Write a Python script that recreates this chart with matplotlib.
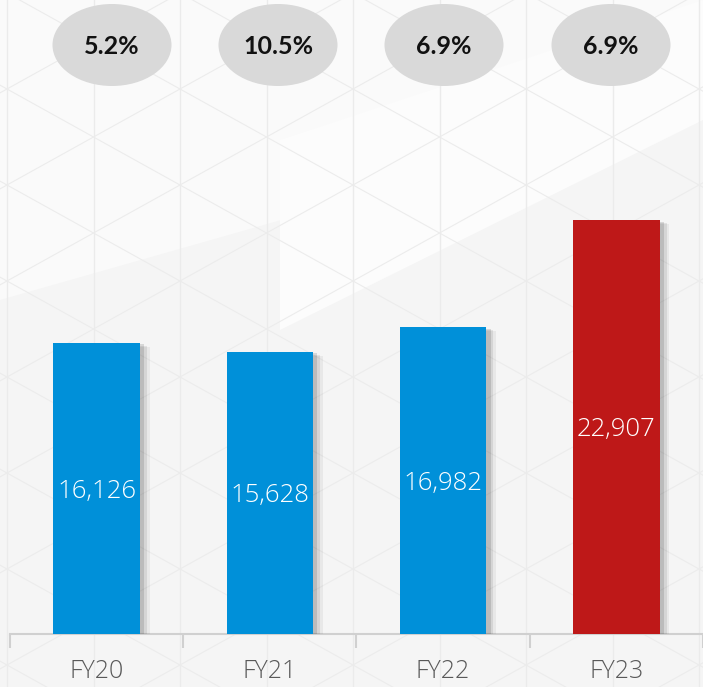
import matplotlib
matplotlib.use("Agg")
import matplotlib.pyplot as plt
import numpy as np
from matplotlib.patches import Ellipse
import matplotlib.patheffects as pe

# ---- data ----
categories = ["FY20", "FY21", "FY22", "FY23"]
values = [16126, 15628, 16982, 22907]
growth = ["5.2%", "10.5%", "6.9%", "6.9%"]
bar_colors = ["#0090D9", "#0090D9", "#0090D9", "#BE1818"]

W, H = 703, 687
fig = plt.figure(figsize=(W / 100, H / 100), dpi=100)
fig.patch.set_facecolor("#f5f5f5")

# ---- decorative background (pixel coords) ----
bg = fig.add_axes([0, 0, 1, 1], zorder=0)
bg.set_xlim(0, W)
bg.set_ylim(H, 0)
bg.axis("off")
bg.set_facecolor("none")
bg.fill([0, 703, 703, 0], [0, 0, 100, 300], color="#fafafa", lw=0, zorder=0)
bg.fill([280, 703, 703, 280], [140, 0, 120, 330], color="#fcfcfc", lw=0, zorder=0)
dx, dy = 86.5, 48.0
s = dy / dx
x0, y0 = 7, 185
for k in range(-2, 10):
    xv = x0 + k * dx
    bg.plot([xv, xv], [0, H], color="#ebebeb", lw=1.0, zorder=1)
xs = np.array([0, W])
for k in range(-20, 20):
    bg.plot(xs, y0 + s * (xs - x0) + 2 * dy * k, color="#ececec", lw=0.8, zorder=1)
    bg.plot(xs, y0 - s * (xs - x0) + 2 * dy * k, color="#ececec", lw=0.8, zorder=1)

# ---- main chart ----
ax = fig.add_axes([0, 53 / H, 1, 634 / H], zorder=2)
ax.set_facecolor("none")
x = np.arange(len(categories))
shadow = [pe.SimplePatchShadow(offset=(7, -3), shadow_rgbFace="#000000", alpha=0.05),
          pe.SimplePatchShadow(offset=(5, -2), shadow_rgbFace="#000000", alpha=0.08),
          pe.SimplePatchShadow(offset=(3, -1), shadow_rgbFace="#000000", alpha=0.12),
          pe.Normal()]
bars = ax.bar(x, values, width=0.5, color=bar_colors, zorder=3)
for b in bars:
    b.set_path_effects(shadow)
for xi, v in zip(x, values):
    ax.text(xi, v / 2 - 150, f"{v:,}", ha="center", va="center", color="white",
            fontsize=18.5, family="Open Sans", fontweight="light", zorder=4)

px = 174.5
ax.set_xlim(-0.5 - 10 / px, -0.5 - 10 / px + W / px)
ax.set_ylim(0, 634 / 0.01806)
for sp in ["top", "right", "left"]:
    ax.spines[sp].set_visible(False)
ax.spines["bottom"].set_color("#d0d0d0")
ax.spines["bottom"].set_linewidth(1.5)
ax.spines["bottom"].set_bounds(-0.5, 4)
ax.set_yticks([])
ax.set_xticks(np.arange(-0.5, 4, 1))
ax.set_xticklabels([])
ax.tick_params(axis="x", length=10, width=1.5, color="#d0d0d0")
ax.set_xticks(x, minor=True)
ax.set_xticklabels(categories, minor=True, fontsize=18, family="Open Sans",
                   fontweight="light", color="#595959")
ax.tick_params(axis="x", which="minor", length=0, pad=18)

# ---- growth ellipses (pixel coords) ----
ov = fig.add_axes([0, 0, 1, 1], zorder=5)
ov.set_xlim(0, W)
ov.set_ylim(H, 0)
ov.axis("off")
ov.set_facecolor("none")
ell_x = [112, 278, 444, 611]
for cx, g in zip(ell_x, growth):
    ov.add_patch(Ellipse((cx, 45), 119, 82, facecolor="#d9d9d9", edgecolor="none"))
    ov.text(cx, 46, g, ha="center", va="center", fontsize=18, fontweight="bold",
            family="Lato", color="#111111")

fig.savefig("out.png", dpi=100, facecolor=fig.get_facecolor())
